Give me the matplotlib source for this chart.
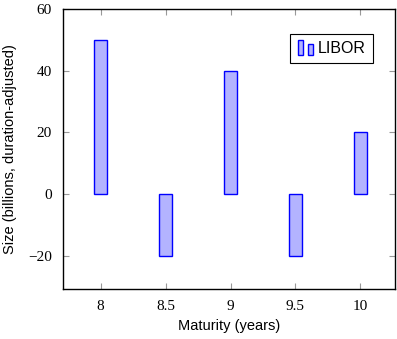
import matplotlib.pyplot as plt
from matplotlib.patches import Rectangle
from matplotlib.legend_handler import HandlerBase

# data
maturity = [8, 8.5, 9, 9.5, 10]
size = [50, -20, 40, -20, 20]
series_name = 'LIBOR'


class TwoBars(HandlerBase):
	# pgfplots style legend picture: two little bars
	def create_artists(self, legend, orig, xd, yd, w, h, fontsize, trans):
		bw = w * 0.33
		base = yd - h * 0.2
		r1 = Rectangle((xd, base), bw, h * 1.4,
			facecolor='#b3b3ff', edgecolor='blue', lw=1, transform=trans)
		r2 = Rectangle((xd + w * 0.7, base), bw * 0.9, h * 1.05,
			facecolor='#b3b3ff', edgecolor='blue', lw=1, transform=trans)
		return [r1, r2]


fig = plt.figure(figsize=(3.97, 3.39), dpi=100)
ax = fig.add_axes([0.1587, 0.1475, 0.8375, 0.826])

bars = ax.bar(maturity, size, width=0.1, color='#b3b3ff', edgecolor='blue', lw=1, label=series_name)

ax.set_xlim(7.71, 10.27)
ax.set_ylim(-30.7, 60)
ax.set_xticks(maturity)
ax.set_xticklabels(['8', '8.5', '9', '9.5', '10'])
ax.set_yticks([-20, 0, 20, 40, 60])

ax.tick_params(direction='in', length=4, color='#999999', top=True, right=True, pad=8)
for lab in ax.get_xticklabels() + ax.get_yticklabels():
	lab.set_family('Liberation Serif')
	lab.set_fontsize(11)
for s in ax.spines.values():
	s.set_linewidth(1)

ax.set_xlabel('Maturity (years)', family='Liberation Sans', fontsize=10.5, labelpad=4)
ax.set_ylabel('Size (billions, duration-adjusted)', family='Liberation Sans', fontsize=10.5, labelpad=8)

leg = ax.legend(handler_map={bars: TwoBars()}, loc='upper right', bbox_to_anchor=(0.931, 0.911),
	borderaxespad=0, prop={'family': 'Liberation Sans', 'size': 11.5}, fancybox=False, framealpha=1,
	edgecolor='black', handlelength=0.95, handletextpad=0.3, borderpad=0.45)
leg.get_frame().set_linewidth(0.8)

plt.savefig('out.png')
